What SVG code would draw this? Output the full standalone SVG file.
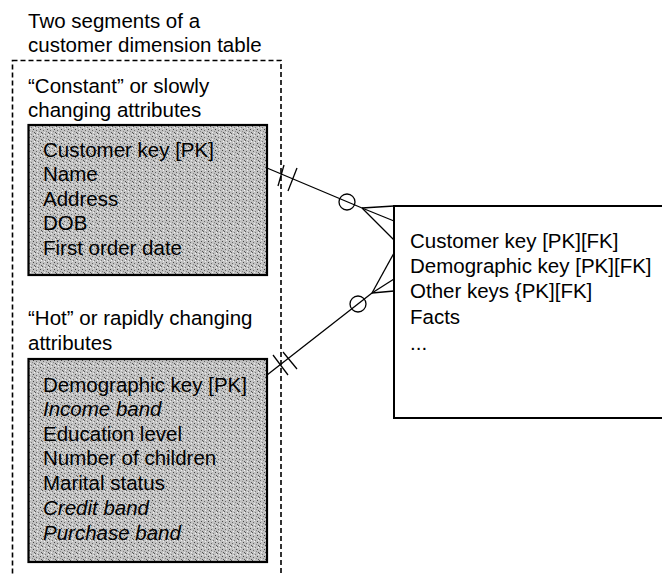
<svg xmlns="http://www.w3.org/2000/svg" width="662" height="576" viewBox="0 0 662 576">
<style>
text{font-family:"Liberation Sans",Arial,sans-serif;font-size:20.5px;fill:#000}
.it{font-style:italic}
.shade{fill:url(#stip);stroke:#000;stroke-width:2.2}
.conn line,.conn circle{stroke:#000;stroke-width:1.3;fill:none}
</style>
<defs>
<pattern id="stip" width="7" height="7" patternUnits="userSpaceOnUse">
<rect width="7" height="7" fill="#c2c2c2"/>
<rect x="0" y="0" width="1" height="1" fill="#555"/>
<rect x="3" y="1" width="1" height="1" fill="#777"/>
<rect x="5" y="3" width="1" height="1" fill="#444"/>
<rect x="1" y="4" width="1" height="1" fill="#666"/>
<rect x="4" y="5" width="1" height="1" fill="#888"/>
<rect x="6" y="6" width="1" height="1" fill="#555"/>
<rect x="2" y="2" width="1" height="1" fill="#eee"/>
<rect x="6" y="1" width="1" height="1" fill="#f4f4f4"/>
<rect x="2" y="6" width="1" height="1" fill="#efefef"/>
</pattern>
</defs>
<g id="title">
<text x="28" y="28">Two segments of a</text>
<text x="28" y="52">customer dimension table</text>
</g>
<g id="dimension-table">
<rect x="12.5" y="60.5" width="268.5" height="540" fill="none" stroke="#000" stroke-width="1.6" stroke-dasharray="5,3"/>
</g>
<g id="constant-segment">
<text x="28" y="93">“Constant” or slowly</text>
<text x="28" y="117">changing attributes</text>
<rect class="shade" x="28.5" y="125" width="238.5" height="150"/>
<text x="43" y="157">Customer key [PK]</text>
<text x="43" y="181">Name</text>
<text x="43" y="206">Address</text>
<text x="43" y="230">DOB</text>
<text x="43" y="255">First order date</text>
</g>
<g id="hot-segment">
<text x="28" y="325">“Hot” or rapidly changing</text>
<text x="28" y="350">attributes</text>
<rect class="shade" x="28.5" y="359" width="238.5" height="203"/>
<text x="43" y="392">Demographic key [PK]</text>
<text class="it" x="43" y="416">Income band</text>
<text x="43" y="441">Education level</text>
<text x="43" y="465">Number of children</text>
<text x="43" y="490">Marital status</text>
<text class="it" x="43" y="515">Credit band</text>
<text class="it" x="43" y="540">Purchase band</text>
</g>
<g id="fact-table">
<path d="M670 206 H394 V418 H670" fill="#fff" stroke="#000" stroke-width="2"/>
<text x="410" y="248">Customer key [PK][FK]</text>
<text x="410" y="273">Demographic key [PK][FK]</text>
<text x="410" y="298">Other keys {PK][FK]</text>
<text x="410" y="324">Facts</text>
<text x="410" y="350">...</text>
</g>
<g class="conn" id="connectors">
<line x1="267" y1="168" x2="362" y2="208"/>
<line x1="284" y1="165" x2="278" y2="186"/>
<line x1="297" y1="168" x2="288" y2="191"/>
<circle cx="347" cy="202" r="8"/>
<line x1="362" y1="208" x2="394" y2="206"/>
<line x1="362" y1="208" x2="394" y2="221"/>
<line x1="362" y1="208" x2="394" y2="240"/>
<line x1="267" y1="375" x2="372" y2="293"/>
<line x1="273" y1="355" x2="288" y2="375"/>
<line x1="283" y1="352" x2="297" y2="369"/>
<circle cx="358" cy="304" r="8"/>
<line x1="372" y1="293" x2="394" y2="253"/>
<line x1="372" y1="293" x2="394" y2="279"/>
<line x1="372" y1="293" x2="394" y2="291"/>
</g>
</svg>
